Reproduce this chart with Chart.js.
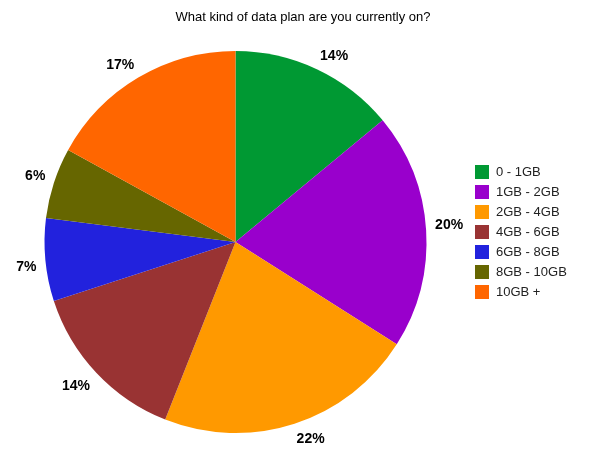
<!DOCTYPE html>
<html>
<head>
<meta charset="utf-8">
<script src="https://cdn.jsdelivr.net/npm/chart.js@4"></script>
<style>
  html, body { margin: 0; padding: 0; background: #fff; }
  #wrap { width: 600px; height: 463px; }
</style>
</head>
<body>
<div id="wrap"><canvas id="pie-chart"></canvas></div>
<script>
const title = "What kind of data plan are you currently on?";
const categories = ["0 - 1GB", "1GB - 2GB", "2GB - 4GB", "4GB - 6GB", "6GB - 8GB", "8GB - 10GB", "10GB +"];
const shares = [14, 20, 22, 14, 7, 6, 17];
const colors = ["#009933", "#9900cc", "#ff9900", "#993333", "#2222dd", "#666600", "#ff6600"];

const canvas = document.getElementById("pie-chart");

// title, slice labels and the legend on the right
const extras = {
  id: "extras",
  afterDraw(chart) {
    const ctx = chart.ctx;
    ctx.save();
    ctx.fillStyle = "#000";
    ctx.font = "13px Arial, 'Liberation Sans', sans-serif";
    ctx.textAlign = "center";
    ctx.textBaseline = "middle";
    ctx.fillText(title, 303, 17);

    // label corner nearest the pie sits just outside the rim, at the slice middle
    ctx.font = "bold 14px Arial, 'Liberation Sans', sans-serif";
    ctx.textBaseline = "alphabetic";
    chart.getDatasetMeta(0).data.forEach((arc, i) => {
      const mid = (arc.startAngle + arc.endAngle) / 2;
      const r = arc.outerRadius + 10;
      const c = Math.cos(mid), s = Math.sin(mid);
      const x = arc.x + c * r;
      const y = arc.y + s * r;
      ctx.textAlign = c >= 0 ? "left" : "right";
      ctx.fillText(shares[i] + "%", x + (c >= 0 ? -1 : 1), s < 0 ? y : y + 10);
    });

    ctx.font = "13px Arial, 'Liberation Sans', sans-serif";
    ctx.textAlign = "left";
    ctx.textBaseline = "middle";
    categories.forEach((name, i) => {
      const y = 165 + i * 20;
      ctx.fillStyle = colors[i];
      ctx.fillRect(475, y, 14, 14);
      ctx.fillStyle = "#222";
      ctx.fillText(name, 496, y + 7.5);
    });
    ctx.restore();
  },
};

new Chart(canvas, {
  type: "pie",
  data: {
    labels: categories,
    datasets: [
      {
        data: shares,
        backgroundColor: colors,
        borderWidth: 0,
      },
    ],
  },
  options: {
    responsive: true,
    maintainAspectRatio: false,
    animation: false,
    layout: {
      padding: { left: 44, right: 173, top: 51, bottom: 30 },
    },
    plugins: {
      legend: { display: false },
      tooltip: { enabled: false },
    },
  },
  plugins: [extras],
});
</script>
</body>
</html>
